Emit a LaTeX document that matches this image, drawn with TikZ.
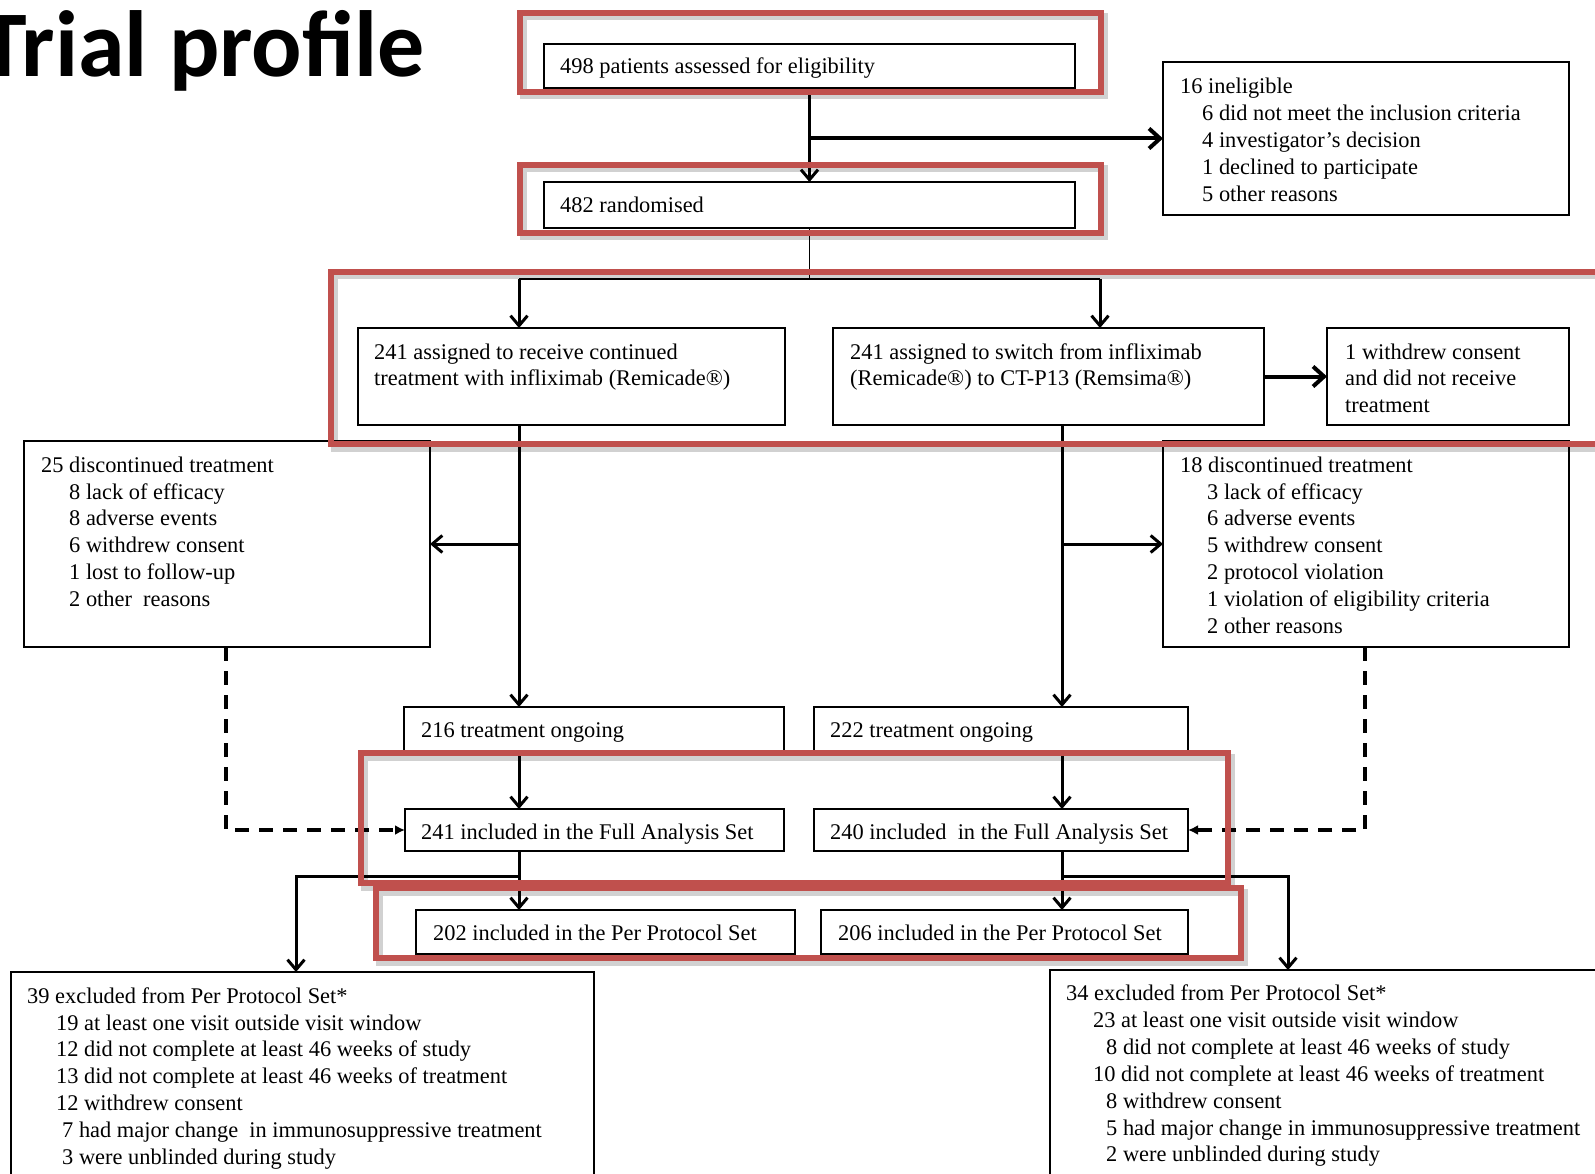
\documentclass[tikz,border=0pt]{standalone}
\usepackage{fontspec}
\setmainfont{Liberation Serif}
\newfontfamily\titlefont{Carlito}
\usetikzlibrary{arrows.meta}
\definecolor{hlred}{HTML}{C0504D}
\begin{document}
\begin{tikzpicture}[x=1pt,y=-1pt,
  bx/.style={draw, line width=2pt, anchor=north west, inner sep=0pt, outer sep=0pt},
  txt/.style={anchor=base west, inner sep=0pt, font=\fontsize{22.4}{27}\selectfont},
  arr/.style={line width=3pt, -{Straight Barb[length=10pt,width=17pt]}},
  arrthick/.style={line width=4pt, -{Straight Barb[length=11pt,width=20pt]}},
  thinline/.style={line width=1.5pt},
  plainline/.style={line width=2.5pt},
  dashedarrow/.style={line width=3.5pt, dash pattern=on 14pt off 10pt, -{Latex[length=10pt,width=10pt]}},
  hlbox/.style={draw=hlred, line width=6pt},
  hlshadow/.style={draw=black, opacity=0.18, line width=7pt}
]
\useasboundingbox (0,0) rectangle (1595,1174);
\fill[white] (0,0) rectangle (1595,1174);

% title
\node[anchor=base east, inner sep=0pt, font=\titlefont\bfseries\fontsize{94}{94}\selectfont] (title) at (425,77) {Trial profile};

% boxes
\node[bx, minimum width=531pt, minimum height=44pt] (b1) at (544,44) {};
\node[bx, minimum width=531pt, minimum height=46pt] (b2) at (544,182) {};
\node[bx, minimum width=406pt, minimum height=153pt] (b3) at (1163,62) {};
\node[bx, minimum width=427pt, minimum height=97pt] (b4) at (358,328) {};
\node[bx, minimum width=431pt, minimum height=97pt] (b5) at (833,328) {};
\node[bx, minimum width=242pt, minimum height=97pt] (b6) at (1327,328) {};
\node[bx, minimum width=406pt, minimum height=206pt] (b7) at (24,441) {};
\node[bx, minimum width=406pt, minimum height=206pt] (b8) at (1163,441) {};
\node[bx, minimum width=380pt, minimum height=46pt] (b9) at (404,707) {};
\node[bx, minimum width=374pt, minimum height=46pt] (b10) at (814,707) {};
\node[bx, minimum width=379pt, minimum height=42pt] (b11) at (405,809) {};
\node[bx, minimum width=374pt, minimum height=42pt] (b12) at (814,809) {};
\node[bx, minimum width=379pt, minimum height=44pt] (b13) at (416,910) {};
\node[bx, minimum width=367pt, minimum height=44pt] (b14) at (821,910) {};
\node[bx, minimum width=583pt, minimum height=230pt] (b15) at (11,972) {};
\node[bx, minimum width=570pt, minimum height=230pt] (b16) at (1050,970) {};

% texts
\node[txt] (t1) at (560,74) {498 patients assessed for eligibility};
\node[txt] (t2) at (560,213) {482 randomised};
\node[txt] (t3) at (1180,93.5) {16 ineligible};
\foreach \s [count=\i from 0] in {6 did not meet the inclusion criteria, 4 investigator’s decision, 1 declined to participate, 5 other reasons}
  \node[txt] (t3-\i) at (1202,{120.5+26.9*\i}) {\s};
\node[txt] (t4a) at (374,359) {241 assigned to receive continued};
\node[txt] (t4b) at (374,385) {treatment with infliximab (Remicade®)};
\node[txt] (t5a) at (850,359) {241 assigned to switch from infliximab};
\node[txt] (t5b) at (850,385) {(Remicade®) to CT-P13 (Remsima®)};
\node[txt] (t6a) at (1345,359) {1 withdrew consent};
\node[txt] (t6b) at (1345,385) {and did not receive};
\node[txt] (t6c) at (1345,412) {treatment};
\node[txt] (t7) at (41,472) {25 discontinued treatment};
\foreach \s [count=\i from 0] in {8 lack of efficacy, 8 adverse events, 6 withdrew consent, 1 lost to follow-up, 2 other\ \ reasons}
  \node[txt] (t7-\i) at (69,{499+26.9*\i}) {\s};
\node[txt] (t8) at (1180,472) {18 discontinued treatment};
\foreach \s [count=\i from 0] in {3 lack of efficacy, 6 adverse events, 5 withdrew consent, 2 protocol violation, 1 violation of eligibility criteria, 2 other reasons}
  \node[txt] (t8-\i) at (1207,{499+26.9*\i}) {\s};
\node[txt] (t9) at (421,737) {216 treatment ongoing};
\node[txt] (t10) at (830,737) {222 treatment ongoing};
\node[txt] (t11) at (421,839) {241 included in the Full Analysis Set};
\node[txt] (t12) at (830,839) {240 included\ \ in the Full Analysis Set};
\node[txt] (t13) at (433,940) {202 included in the Per Protocol Set};
\node[txt] (t14) at (838,940) {206 included in the Per Protocol Set};
\node[txt] (t15) at (27,1003) {39 excluded from Per Protocol Set*};
\foreach \s [count=\i from 0] in {19 at least one visit outside visit window, 12 did not complete at least 46 weeks of study, 13 did not complete at least 46 weeks of treatment, 12 withdrew consent}
  \node[txt] (t15-\i) at (56,{1030+26.9*\i}) {\s};
\node[txt] (t15-4) at (62,1137.6) {7 had major change\ \ in immunosuppressive treatment};
\node[txt] (t15-5) at (62,1164.5) {3 were unblinded during study};
\node[txt] (t16) at (1066,1000) {34 excluded from Per Protocol Set*};
\node[txt] (t16-0) at (1093,1027) {23 at least one visit outside visit window};
\node[txt] (t16-1) at (1106,1054) {8 did not complete at least 46 weeks of study};
\node[txt] (t16-2) at (1093,1081) {10 did not complete at least 46 weeks of treatment};
\node[txt] (t16-3) at (1106,1108) {8 withdrew consent};
\node[txt] (t16-4) at (1106,1135) {5 had major change in immunosuppressive treatment};
\node[txt] (t16-5) at (1106,1161) {2 were unblinded during study};

% connector coordinates
\coordinate (split) at (809.5,279);
\coordinate (sL) at (519,279);
\coordinate (sR) at (1100,279);
\coordinate (cL) at (519,0);
\coordinate (cR) at (1062,0);
\coordinate (jL) at (519,876);
\coordinate (kL) at (296,876);
\coordinate (jR) at (1062,876);
\coordinate (kR) at (1288,876);
\coordinate (dL) at (226,830);
\coordinate (dR) at (1365,830);

% connectors
\draw[arr] (b1) -- (b2);
\draw[arrthick] (b1.south |- b3.west) -- (b3.west);
\draw[thinline] (b2.south) -- (split);
\draw[plainline] (sL) -- (sR);
\draw[arr] (sL) -- (sL |- b4.north);
\draw[arr] (sR) -- (sR |- b5.north);
\draw[arrthick] (b5.east) -- (b6.west);
\draw[arr] (cL |- b4.south) -- (cL |- b9.north);
\draw[arr] (cL |- b7.east) -- (b7.east);
\draw[arr] (cR |- b5.south) -- (cR |- b10.north);
\draw[arr] (cR |- b8.west) -- (b8.west);
\draw[arr] (cL |- b9.south) -- (cL |- b11.north);
\draw[arr] (cR |- b10.south) -- (cR |- b12.north);
\draw[arr] (cL |- b11.south) -- (cL |- b13.north);
\draw[arr] (cR |- b12.south) -- (cR |- b14.north);
\draw[arr] (jL) -- (kL) -- (kL |- b15.north);
\draw[arr] (jR) -- (kR) -- (kR |- b16.north);
\draw[dashedarrow] (dL |- b7.south) -- (dL) -- (b11.west);
\draw[dashedarrow] (dR |- b8.south) -- (dR) -- (b12.east);

% highlight frames
\foreach \a/\b in {{520,13}/{1101,92},{520,165}/{1101,233},{331,272}/{1620,444},{361,753}/{1228,883},{376,888}/{1241,958}}{
  \draw[hlshadow] ([shift={(3,4)}]\a) rectangle ([shift={(3,4)}]\b);
}
\foreach \a/\b in {{520,13}/{1101,92},{520,165}/{1101,233},{331,272}/{1620,444},{361,753}/{1228,883},{376,888}/{1241,958}}{
  \draw[hlbox] (\a) rectangle (\b);
}
\end{tikzpicture}
\end{document}
